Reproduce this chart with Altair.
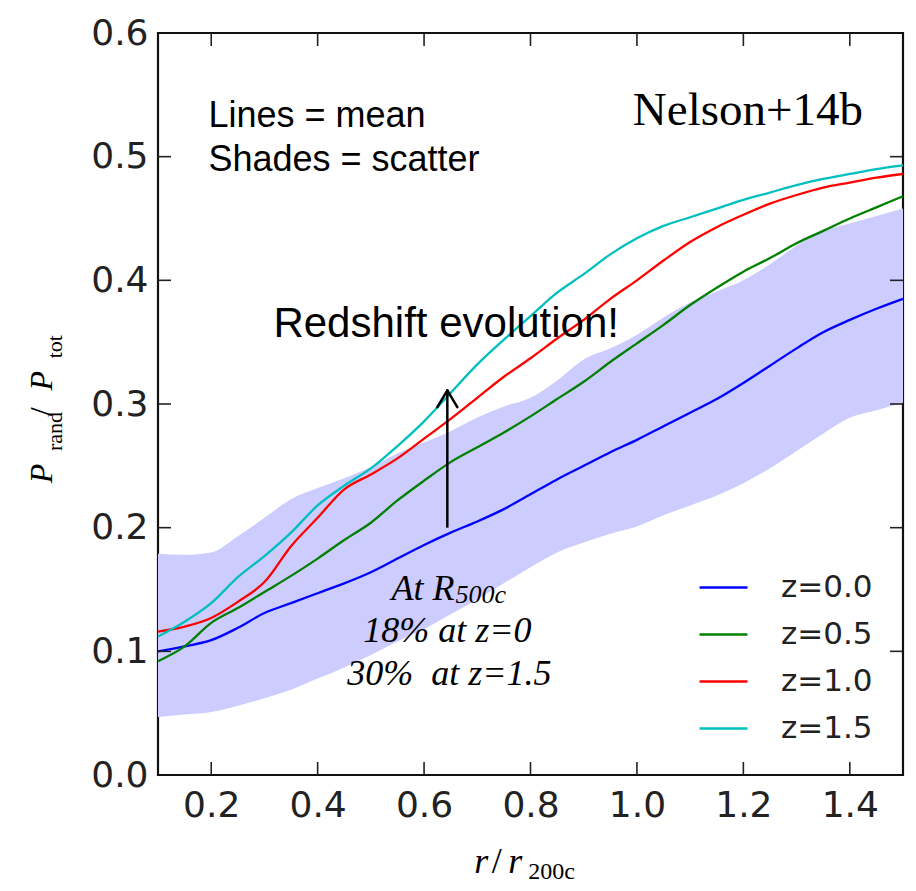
import altair as alt
import pandas as pd

# ---------------- data ----------------
r = [0.10, 0.15, 0.20, 0.25, 0.30, 0.35, 0.40, 0.45, 0.50, 0.55,
     0.60, 0.65, 0.70, 0.75, 0.80, 0.85, 0.90, 0.95, 1.00, 1.05,
     1.10, 1.15, 1.20, 1.25, 1.30, 1.35, 1.40, 1.45, 1.50]

z00 = [0.100, 0.104, 0.109, 0.119, 0.131, 0.139, 0.147, 0.155, 0.164, 0.175,
       0.186, 0.196, 0.205, 0.215, 0.227, 0.239, 0.250, 0.261, 0.271, 0.282,
       0.293, 0.304, 0.317, 0.331, 0.345, 0.358, 0.368, 0.377, 0.385]

z05 = [0.092, 0.104, 0.123, 0.135, 0.148, 0.161, 0.175, 0.190, 0.204, 0.222,
       0.238, 0.253, 0.265, 0.277, 0.290, 0.304, 0.318, 0.334, 0.349, 0.364,
       0.380, 0.394, 0.407, 0.418, 0.430, 0.440, 0.450, 0.459, 0.468]

z10 = [0.116, 0.120, 0.127, 0.140, 0.156, 0.185, 0.208, 0.231, 0.243, 0.256,
       0.272, 0.288, 0.305, 0.322, 0.337, 0.353, 0.368, 0.385, 0.400, 0.416,
       0.431, 0.443, 0.453, 0.462, 0.469, 0.475, 0.479, 0.483, 0.486]

z15 = [0.112, 0.124, 0.139, 0.160, 0.177, 0.196, 0.218, 0.234, 0.248, 0.266,
       0.286, 0.309, 0.332, 0.352, 0.371, 0.390, 0.405, 0.421, 0.434, 0.444,
       0.451, 0.458, 0.465, 0.471, 0.477, 0.482, 0.486, 0.490, 0.493]

band_hi = [0.179, 0.178, 0.180, 0.193, 0.208, 0.223, 0.232, 0.240, 0.249, 0.260,
           0.269, 0.278, 0.289, 0.298, 0.305, 0.319, 0.336, 0.345, 0.356, 0.370,
           0.382, 0.391, 0.400, 0.413, 0.428, 0.440, 0.446, 0.452, 0.458]

band_lo = [0.047, 0.049, 0.051, 0.056, 0.062, 0.069, 0.078, 0.087, 0.097, 0.108,
           0.118, 0.130, 0.142, 0.155, 0.168, 0.180, 0.188, 0.195, 0.201, 0.210,
           0.218, 0.226, 0.236, 0.248, 0.262, 0.276, 0.289, 0.295, 0.301]

series_names = ["z=0.0", "z=0.5", "z=1.0", "z=1.5"]
series_colors = ["#0000ff", "#008000", "#ff0000", "#00bfbf"]
series_values = [z00, z05, z10, z15]

x_ticks = [0.2, 0.4, 0.6, 0.8, 1.0, 1.2, 1.4]
y_ticks = [0.1, 0.2, 0.3, 0.4, 0.5]
y_labels = [0.0, 0.1, 0.2, 0.3, 0.4, 0.5, 0.6]

X_MIN, X_MAX = 0.1, 1.5
Y_MIN, Y_MAX = 0.0, 0.6

# ---------------- tables ----------------
band_df = pd.DataFrame({"r": r, "lo": band_lo, "hi": band_hi})
rows = []
for name, vals in zip(series_names, series_values):
    for rv, v in zip(r, vals):
        rows.append({"r": rv, "v": v, "z": name})
lines_df = pd.DataFrame(rows)

xs = alt.Scale(domain=[X_MIN, X_MAX], nice=False, zero=False)
ys = alt.Scale(domain=[Y_MIN, Y_MAX], nice=False, zero=False)

TICK_FONT = "DejaVu Sans"
TICK_COLOR = "#222222"

# inward tick length expressed in data units (~13 px)
TLX = 0.0244
TLY = 0.0105

# band with the labelled axes
band = alt.Chart(band_df).mark_area(color="#ccccff", opacity=1,
                                    interpolate="monotone").encode(
    x=alt.X("r:Q", scale=xs, axis=alt.Axis(
        orient="bottom", values=x_ticks, format=".1f", labelFont=TICK_FONT,
        labelFontSize=36, labelColor=TICK_COLOR, tickSize=0, domain=False,
        grid=False, labelPadding=13, title=None)),
    y=alt.Y("lo:Q", scale=ys, axis=alt.Axis(
        orient="left", values=y_labels, format=".1f", labelFont=TICK_FONT,
        labelFontSize=36, labelColor=TICK_COLOR, tickSize=0, domain=False,
        grid=False, labelPadding=10, title=None)),
    y2="hi:Q",
)

lines = alt.Chart(lines_df).mark_line(strokeWidth=2.3, interpolate="monotone").encode(
    x=alt.X("r:Q", scale=xs, axis=None),
    y=alt.Y("v:Q", scale=ys, axis=None),
    color=alt.Color("z:N", scale=alt.Scale(domain=series_names, range=series_colors),
                    legend=alt.Legend(orient="none", legendX=540, legendY=529,
                                      title=None, symbolType="stroke",
                                      symbolSize=2300, symbolStrokeWidth=2.5,
                                      labelFont=TICK_FONT, labelFontSize=31,
                                      labelColor=TICK_COLOR, labelOffset=32,
                                      rowPadding=6, padding=0)),
)

# inward ticks on all four sides
xt_rows = []
for t in x_ticks:
    xt_rows.append({"r": t, "a": Y_MIN, "b": Y_MIN + TLY})
    xt_rows.append({"r": t, "a": Y_MAX - TLY, "b": Y_MAX})
yt_rows = []
for t in y_ticks:
    yt_rows.append({"v": t, "a": X_MIN, "b": X_MIN + TLX})
    yt_rows.append({"v": t, "a": X_MAX - TLX, "b": X_MAX})

xticks = alt.Chart(pd.DataFrame(xt_rows)).mark_rule(color="#222222", strokeWidth=1.6).encode(
    x=alt.X("r:Q", scale=xs, axis=None),
    y=alt.Y("a:Q", scale=ys, axis=None), y2="b:Q")
yticks = alt.Chart(pd.DataFrame(yt_rows)).mark_rule(color="#222222", strokeWidth=1.6).encode(
    y=alt.Y("v:Q", scale=ys, axis=None),
    x=alt.X("a:Q", scale=xs, axis=None), x2="b:Q")

# arrow
arrow_x = [0.6437]
arrow_y0 = [0.200]
arrow_y1 = [0.311]
shaft = alt.Chart(pd.DataFrame({"r": arrow_x, "a": arrow_y0, "b": arrow_y1})).mark_rule(
    color="black", strokeWidth=2.5).encode(
    x=alt.X("r:Q", scale=xs, axis=None),
    y=alt.Y("a:Q", scale=ys, axis=None),
    y2="b:Q",
)
head_df = pd.DataFrame({"r": [0.6437 - 0.0188, 0.6437 + 0.0188],
                        "v": [0.2975, 0.2975],
                        "r2": [0.6437, 0.6437], "v2": [0.311, 0.311]})
head = alt.Chart(head_df).mark_rule(color="black", strokeWidth=2.5,
                                    strokeCap="round").encode(
    x=alt.X("r:Q", scale=xs, axis=None), y=alt.Y("v:Q", scale=ys, axis=None),
    x2="r2:Q", y2="v2:Q")


def label(text, rv, vv, size, font, style="normal", align="left", angle=0,
          color="black", weight="normal"):
    d = pd.DataFrame({"t": [text], "r": [rv], "v": [vv]})
    return alt.Chart(d).mark_text(align=align, baseline="alphabetic", font=font,
                                  fontSize=size, fontStyle=style, angle=angle,
                                  color=color, fontWeight=weight).encode(
        x=alt.X("r:Q", scale=xs, axis=None),
        y=alt.Y("v:Q", scale=ys, axis=None),
        text="t:N")


SANS = "Liberation Sans"
SERIF = "Liberation Serif"

texts = [
    label("Lines = mean", 0.1948, 0.5238, 36, SANS),
    label("Shades = scatter", 0.1948, 0.4883, 36, SANS),
    label("Nelson+14b", 1.4249, 0.5255, 47, SERIF, align="right"),
    label("Redshift evolution!", 0.3169, 0.3541, 42, SANS),
    label("At R", 0.5390, 0.1415, 36, SERIF, style="italic"),
    label("500c", 0.6590, 0.1390, 26, SERIF, style="italic"),
    label("18% at z=0", 0.6437, 0.1075, 36, SERIF, style="italic", align="center"),
    label("30%\u00a0\u00a0at z=1.5", 0.6475, 0.0728, 36, SERIF, style="italic", align="center"),
    # x axis title r/r_200c
    label("r", 0.6944, -0.0792, 36, SERIF, style="italic"),
    label("/", 0.7270, -0.0792, 36, SERIF),
    label("r", 0.7580, -0.0792, 36, SERIF, style="italic"),
    label("200c", 0.7960, -0.0845, 24, SERIF),
    # y axis title P_rand / P_tot (rotated)
    label("P", -0.100, 0.236, 32, SERIF, style="italic", angle=270),
    label("rand", -0.080, 0.262, 22, SERIF, angle=270),
    label("/", -0.100, 0.290, 32, SERIF, angle=270),
    label("P", -0.100, 0.311, 32, SERIF, style="italic", angle=270),
    label("tot", -0.080, 0.337, 22, SERIF, angle=270),
]

chart = alt.layer(band, lines, xticks, yticks, shaft, head, *texts).resolve_axis(
    x="independent", y="independent"
).properties(
    width=745, height=742,
    padding={"left": 158, "top": 33, "right": 13, "bottom": 116},
    autosize=alt.AutoSizeParams(type="none"),
    background="white",
).configure_view(stroke="#111111", strokeWidth=2.2)

chart.save("out.html", embed_options={"renderer": "svg", "actions": False})
